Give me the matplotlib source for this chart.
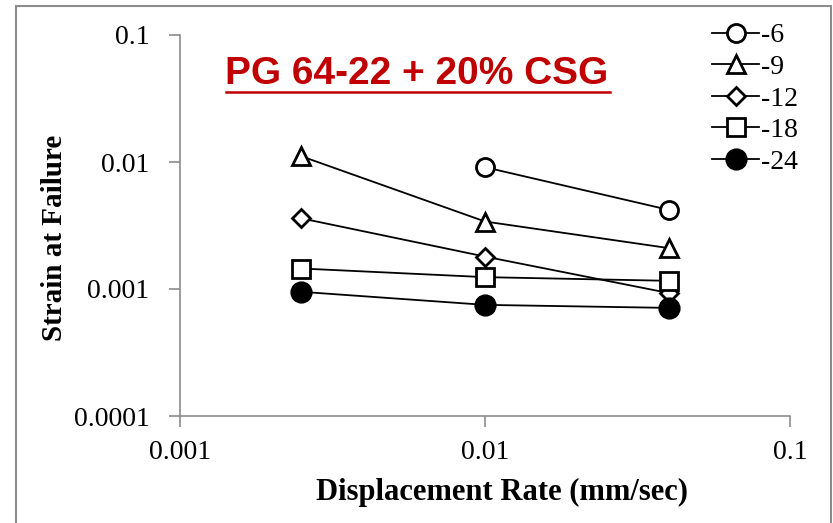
import numpy as np
import matplotlib
matplotlib.use("Agg")
import matplotlib.pyplot as plt
from matplotlib.patches import Rectangle
from matplotlib.lines import Line2D

# 데이터
rate_all = [0.0025, 0.01, 0.04]
rate_6 = [0.01, 0.04]
strain_6 = [0.0091, 0.0042]
strain_9 = [0.0111, 0.0034, 0.0021]
strain_12 = [0.0036, 0.0018, 0.00093]
strain_18 = [0.00145, 0.00124, 0.00116]
strain_24 = [0.00095, 0.00075, 0.00071]
labels = ["-6", "-9", "-12", "-18", "-24"]

plt.rcParams['font.family'] = ['Liberation Serif', 'DejaVu Serif']

fig = plt.figure(figsize=(8.33, 5.23), dpi=100)
ax = fig.add_axes([180 / 833, 1 - 416 / 523, 610 / 833, 381 / 523])

series = [
    (rate_6, strain_6, 'o', 'white', 13),
    (rate_all, strain_9, '^', 'white', 12.5),
    (rate_all, strain_12, 'D', 'white', 9.5),
    (rate_all, strain_18, 's', 'white', 12.5),
    (rate_all, strain_24, 'o', 'black', 14),
]
for (x, y, m, fc, ms), lab in zip(series, labels):
    ax.plot(x, y, color='black', lw=1.3, marker=m, mfc=fc, mec='black',
            mew=2.0, ms=ms, label=lab)

ax.set_xscale('log')
ax.set_yscale('log')
ax.set_xlim(0.001, 0.1)
ax.set_ylim(0.0001, 0.1)
ax.set_xticks([0.001, 0.01, 0.1])
ax.set_xticklabels(["0.001", "0.01", "0.1"])
ax.set_yticks([0.0001, 0.001, 0.01, 0.1])
ax.set_yticklabels(["0.0001", "0.001", "0.01", "0.1"])
ax.minorticks_off()
ax.tick_params(labelsize=20, color='#8c8c8c', length=8, width=1.2)
ax.tick_params(axis='y', pad=14)
ax.tick_params(axis='x', pad=9)
for s in ['top', 'right']:
    ax.spines[s].set_visible(False)
for s in ['left', 'bottom']:
    ax.spines[s].set_color('#8c8c8c')
    ax.spines[s].set_linewidth(1.2)

ax.set_xlabel("Displacement Rate (mm/sec)", fontsize=22, fontweight='bold')
ax.xaxis.set_label_coords(0.528, -0.163)
ax.set_ylabel("Strain at Failure", fontsize=21, fontweight='bold')
ax.yaxis.set_label_coords(-0.183, 0.467)

# 제목 (밑줄 포함)
fig.text(417 / 833, 1 - 74 / 523, "PG 64-22 + 20% CSG", fontsize=28, fontweight='bold',
         color='#C00000', family=['Liberation Sans', 'DejaVu Sans'],
         ha='center', va='center')
fig.add_artist(Line2D([226 / 833, 610 / 833], [1 - 92 / 523, 1 - 92 / 523],
                      color='#C00000', lw=1.8, transform=fig.transFigure))

leg = fig.legend(loc='upper left', bbox_to_anchor=(712 / 833, 1 - 23 / 523),
                 frameon=False, fontsize=20, handlelength=1.7, handletextpad=0.05,
                 labelspacing=0.22, borderaxespad=0, borderpad=0)

# 바깥 테두리
fig.add_artist(Rectangle((16 / 833, -0.05), 815 / 833, 1.05 - 6 / 523,
                         transform=fig.transFigure, fill=False,
                         edgecolor='#8c8c8c', lw=1.5))

fig.savefig("out.png", dpi=100)
